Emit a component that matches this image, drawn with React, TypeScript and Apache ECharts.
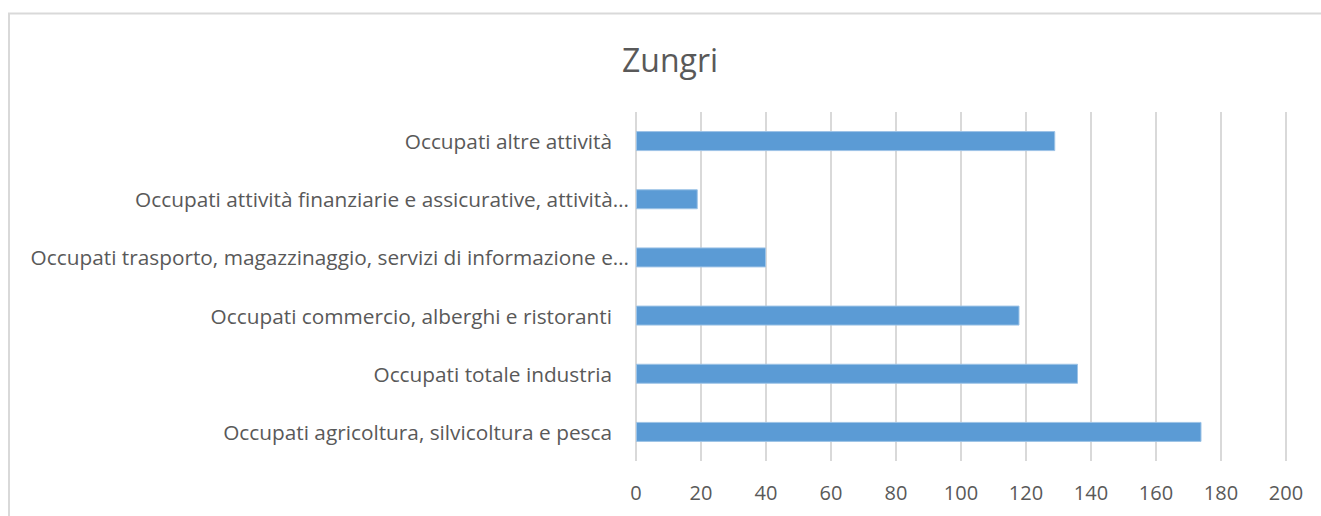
import React, { useEffect, useRef } from "react";
import * as echarts from "echarts";

const TITLE = "Zungri";
const categories = [
  "Occupati agricoltura, silvicoltura e pesca",
  "Occupati totale industria",
  "Occupati commercio, alberghi e ristoranti",
  "Occupati trasporto, magazzinaggio, servizi di informazione e…",
  "Occupati attività finanziarie e assicurative, attività…",
  "Occupati altre attività",
];
const values = [174, 136, 118, 40, 19, 129];
const axisMin = 0;
const axisMax = 200;
const axisStep = 20;

export default function App() {
  const ref = useRef<HTMLDivElement>(null);
  useEffect(() => {
    if (!ref.current) return;
    const chart = echarts.init(ref.current, undefined, { renderer: "svg" });
    const font = "'Open Sans', sans-serif";
    const labelStyle = { fontFamily: font, fontSize: 20.8, color: "#595959" };
    chart.setOption({
      animation: false,
      backgroundColor: "#ffffff",
      graphic: [
        {
          type: "rect",
          shape: { x: 9, y: 13.5, width: 1400, height: 600 },
          style: { fill: "none", stroke: "#d9d9d9", lineWidth: 2 },
          silent: true,
        },
        {
          type: "text",
          x: 670,
          y: 59,
          style: {
            text: TITLE,
            align: "center",
            verticalAlign: "middle",
            font: "32px 'Open Sans', sans-serif",
            fill: "#595959",
          },
          silent: true,
        },
      ],
      grid: { left: 636, right: 35, top: 112, height: 349, containLabel: false },
      xAxis: {
        type: "value",
        min: axisMin,
        max: axisMax,
        interval: axisStep,
        axisLine: { show: false },
        axisTick: { show: false },
        splitLine: { show: true, lineStyle: { color: "#d9d9d9", width: 2 } },
        axisLabel: { fontFamily: font, fontSize: 20, color: "#595959", margin: 21 },
      },
      yAxis: {
        type: "category",
        data: categories,
        axisLine: { show: false },
        axisTick: { show: false },
        axisLabel: {
          ...labelStyle,
          margin: 7,
          formatter: (v: string) => (v.endsWith("…") ? `{e|${v}}` : `{n|${v}}`),
          rich: {
            n: { ...labelStyle, padding: [0, 17, 0, 0] },
            e: { ...labelStyle },
          },
        },
      },
      series: [
        {
          type: "bar",
          data: values,
          barWidth: 20,
          itemStyle: { color: "#5b9bd5", borderColor: "#9dc3e6", borderWidth: 1 },
        },
      ],
    });
    return () => chart.dispose();
  }, []);
  return (
    <div
      ref={ref}
      style={{ position: "absolute", left: 0, top: 0, width: 1321, height: 516 }}
    />
  );
}
